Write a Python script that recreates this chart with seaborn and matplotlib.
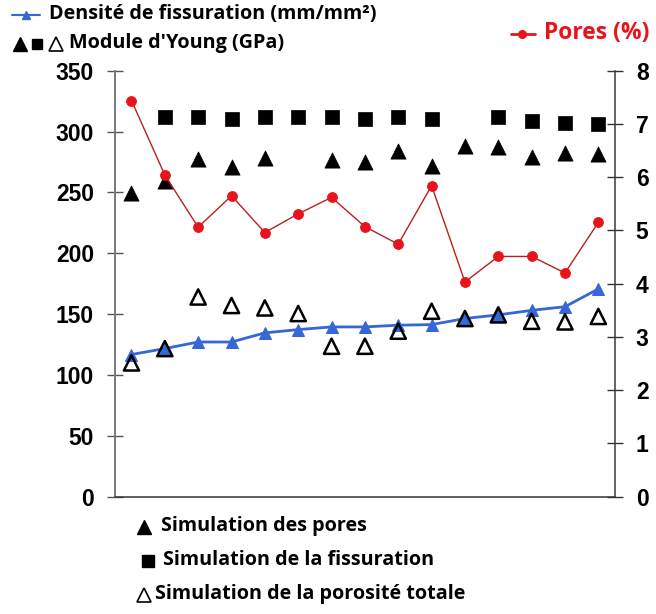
import numpy as np
import matplotlib
matplotlib.use("Agg")
import matplotlib.pyplot as plt
import seaborn as sns
from matplotlib.lines import Line2D

nan = np.nan

# Échantillons (positions sur l'axe horizontal)
echantillons = list(range(1, 16))

# Densité de fissuration (mm/mm²) – axe de gauche
densite_fissuration = [116.7, 121.6, 127.0, 127.0, 134.5, 137.2, 139.4, 139.4,
                       140.8, 141.3, 146.3, 149.3, 153.0, 156.0, 170.6]

# Module d'Young (GPa) – axe de gauche
module_sim_pores = [249.2, 259.6, 277.2, 271.1, 278.0, nan, 276.6, 275.2,
                    284.2, 271.6, 288.1, 287.0, 279.3, 282.6, 281.3]
module_sim_fissuration = [nan, 311.7, 311.7, 310.0, 311.7, 311.7, 311.7, 310.0,
                          311.7, 310.0, nan, 312.2, 308.9, 307.3, 306.2]
module_sim_porosite = [109.8, 121.6, 164.0, 157.0, 155.0, 150.4, 123.5, 123.5,
                       135.9, 152.3, 146.3, 149.3, 144.0, 143.5, 148.0]

# Pores (%) – axe de droite
pores = [7.44, 6.04, 5.06, 5.65, 4.96, 5.31, 5.62, 5.07,
         4.74, 5.84, 4.03, 4.51, 4.51, 4.20, 5.15]

gauche_ticks = [0, 50, 100, 150, 200, 250, 300, 350]
droite_ticks = [0, 1, 2, 3, 4, 5, 6, 7, 8]

BLEU = "#3567D6"
ROUGE = "#E8141B"
ROUGE_LIGNE = "#B8201F"

sns.set_style("white")
plt.rcParams.update({
    "font.family": ["Liberation Sans", "DejaVu Sans"],
    "font.weight": "bold",
    "ytick.labelsize": 16.5,
    "ytick.color": "#444444",
    "ytick.labelcolor": "black",
    "text.color": "black",
})

W, H = 656, 614
fig = plt.figure(figsize=(W / 100, H / 100), dpi=100)


def fx(x):
    return x / W


def fy(y):
    return 1 - y / H


ax = fig.add_axes([fx(114.8), fy(496.5), fx(615) - fx(114.8), fy(70.7) - fy(496.5)])
ax2 = ax.twinx()

# Module d'Young : simulations
sns.scatterplot(x=echantillons, y=module_sim_fissuration, ax=ax, marker="s",
                s=105, color="black", edgecolor="black", linewidth=0.5, zorder=3)
sns.scatterplot(x=echantillons, y=module_sim_pores, ax=ax, marker="^",
                s=120, color="black", edgecolor="black", linewidth=0.5, zorder=3)

# Densité de fissuration
sns.lineplot(x=echantillons, y=densite_fissuration, ax=ax, color=BLEU,
             linewidth=2, marker="^", markersize=8.5, markeredgecolor=BLEU,
             markerfacecolor=BLEU, zorder=4)

sns.scatterplot(x=echantillons, y=module_sim_porosite, ax=ax, marker="^",
                s=120, facecolor="none", edgecolor="black", linewidth=1.8, zorder=5)

# Pores (%)
sns.lineplot(x=echantillons, y=pores, ax=ax2, color=ROUGE_LIGNE, linewidth=1,
             marker="o", markersize=7, markerfacecolor=ROUGE,
             markeredgecolor=ROUGE, zorder=4)

ax.set_xlim(0.5, 15.5)
ax.set_ylim(0, 350)
ax2.set_ylim(0, 8)
ax.set_xticks(np.arange(0.5, 16, 1))
ax.set_xticklabels([])
ax.set_yticks(gauche_ticks)
ax2.set_yticks(droite_ticks)
ax.set_xlabel("")
ax.set_ylabel("")
ax2.set_ylabel("")

for a in (ax, ax2):
    a.grid(False)
    a.spines["top"].set_visible(False)
ax.spines["right"].set_visible(False)
ax2.spines["left"].set_visible(False)
ax2.spines["bottom"].set_visible(False)

ax.spines["left"].set_color("#7a7a7a")
ax.spines["left"].set_linewidth(1.4)
ax.spines["bottom"].set_color("#333333")
ax.spines["bottom"].set_linewidth(1.1)
ax2.spines["right"].set_color("#3a3a3a")
ax2.spines["right"].set_linewidth(1.1)

ax.tick_params(axis="y", direction="inout", length=11, width=1, color="#555555",
               pad=9.5, labelcolor="black")
ax.tick_params(axis="x", direction="inout", length=7, width=1, color="#555555")
ax2.tick_params(axis="y", direction="inout", length=12, width=1, color="#333333",
                pad=9, labelcolor="black")

# Légende du haut
leg_font = dict(family=["Open Sans", "DejaVu Sans"], fontweight="bold",
                va="center", ha="left")
LEG_SIZE = 14.2

fig.add_artist(Line2D([fx(12), fx(40)], [fy(15), fy(15)], color=BLEU, lw=1.5))
fig.add_artist(Line2D([fx(26)], [fy(15)], color=BLEU, marker="^", markersize=6,
                      lw=0))
fig.text(fx(49), fy(14), "Densité de fissuration (mm/mm²)", fontsize=LEG_SIZE,
         color="black", **leg_font)

fig.add_artist(Line2D([fx(19.5)], [fy(44)], color="black", marker="^",
                      markersize=10, lw=0))
fig.add_artist(Line2D([fx(37)], [fy(44)], color="black", marker="s",
                      markersize=7.5, lw=0))
fig.add_artist(Line2D([fx(56.5)], [fy(44)], marker="^", markersize=9.5, lw=0,
                      markerfacecolor="none", markeredgecolor="black",
                      markeredgewidth=1.2))
fig.text(fx(69), fy(43), "Module d'Young (GPa)", fontsize=LEG_SIZE,
         color="black", **leg_font)

fig.add_artist(Line2D([fx(511), fx(535)], [fy(34), fy(34)], color=ROUGE, lw=2))
fig.add_artist(Line2D([fx(522)], [fy(34)], color=ROUGE, marker="o",
                      markersize=5.5, lw=0))
fig.text(fx(544), fy(33), "Pores (%)", fontsize=16.5, color=ROUGE, **leg_font)

# Légende du bas
fig.add_artist(Line2D([fx(144)], [fy(527)], color="black", marker="^",
                      markersize=10, lw=0))
fig.text(fx(161), fy(526), "Simulation des pores", fontsize=LEG_SIZE,
         color="black", **leg_font)

fig.add_artist(Line2D([fx(147.5)], [fy(561)], color="black", marker="s",
                      markersize=8, lw=0))
fig.text(fx(163), fy(560), "Simulation de la fissuration", fontsize=LEG_SIZE,
         color="black", **leg_font)

fig.add_artist(Line2D([fx(144)], [fy(595)], marker="^", markersize=9.5, lw=0,
                      markerfacecolor="none", markeredgecolor="black",
                      markeredgewidth=1.2))
fig.text(fx(155), fy(594), "Simulation de la porosité totale", fontsize=LEG_SIZE,
         color="black", **leg_font)

fig.savefig("out.png", dpi=100)
